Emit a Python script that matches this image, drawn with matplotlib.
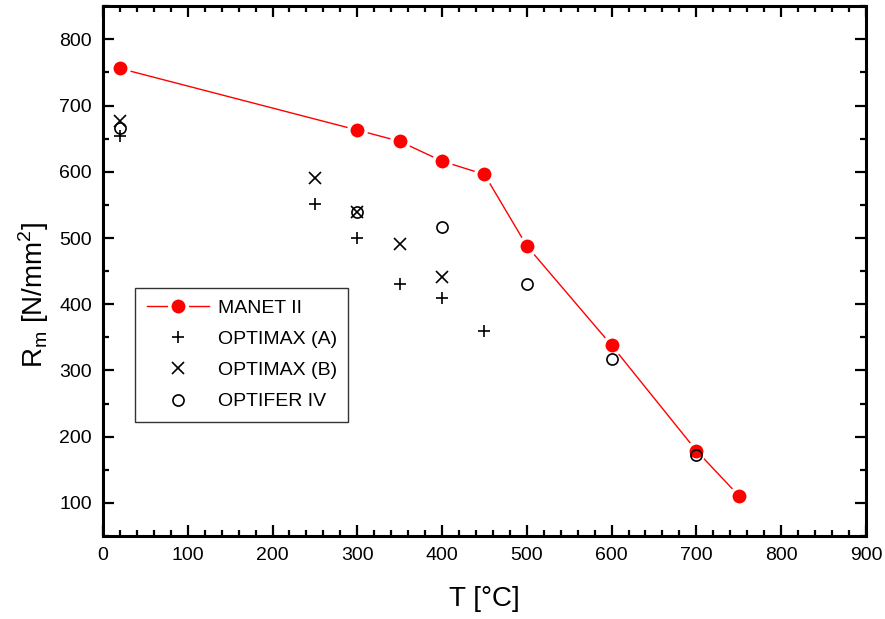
import matplotlib
matplotlib.use("Agg")
import matplotlib.pyplot as plt
from matplotlib.ticker import MultipleLocator

plt.rcParams['font.family'] = ['Liberation Sans', 'DejaVu Sans']

# data
manet_t = [20, 300, 350, 400, 450, 500, 600, 700, 750]
manet_rm = [756, 663, 646, 616, 596, 488, 338, 179, 111]

optimax_a_t = [20, 250, 300, 350, 400, 450]
optimax_a_rm = [654, 551, 500, 430, 410, 360]

optimax_b_t = [20, 250, 300, 350, 400]
optimax_b_rm = [676, 591, 540, 491, 441]

optifer_t = [20, 300, 400, 500, 600, 700]
optifer_rm = [666, 540, 516, 431, 318, 173]

fig = plt.figure(figsize=(8.85, 6.19), dpi=100)
ax = fig.add_axes([0.1164, 0.134, 0.862, 0.856])

ax.plot(manet_t, manet_rm, color="red", lw=1.0, marker="o", ms=12.5,
        mfc="red", mec="white", mew=2.5, label="MANET II")
ax.plot(optimax_a_t, optimax_a_rm, ls="none", marker="+", ms=9, mew=1.2,
        color="black", label="OPTIMAX (A)")
ax.plot(optimax_b_t, optimax_b_rm, ls="none", marker="x", ms=8, mew=1.2,
        color="black", label="OPTIMAX (B)")
ax.plot(optifer_t, optifer_rm, ls="none", marker="o", ms=8, mew=1.2,
        mfc="none", mec="black", label="OPTIFER IV")

ax.set_xlim(0, 900)
ax.set_ylim(50, 850)
ax.xaxis.set_major_locator(MultipleLocator(100))
ax.xaxis.set_minor_locator(MultipleLocator(20))
ax.yaxis.set_major_locator(MultipleLocator(100))
ax.yaxis.set_minor_locator(MultipleLocator(50))
ax.set_yticks(range(100, 801, 100))

ax.tick_params(which="both", direction="in", top=True, right=True,
               width=1.6, labelsize=14, pad=8)
ax.tick_params(which="major", length=8)
ax.tick_params(which="minor", length=4.5)
for s in ax.spines.values():
    s.set_linewidth(2.2)

ax.set_xlabel("T [°C]", fontsize=20, labelpad=16)
ax.set_ylabel("R$_\\mathregular{m}$ [N/mm$^\\mathregular{2}$]", fontsize=20)
ax.yaxis.set_label_coords(-0.068, 0.455)

leg = ax.legend(loc="lower left", bbox_to_anchor=(0.042, 0.215), borderaxespad=0,
                fontsize=14, fancybox=False, framealpha=1, edgecolor="#333333",
                handlelength=3.2, labelspacing=0.7, borderpad=0.6, handletextpad=0.45)
leg.get_frame().set_linewidth(1.0)

fig.savefig("out.png", dpi=100)
